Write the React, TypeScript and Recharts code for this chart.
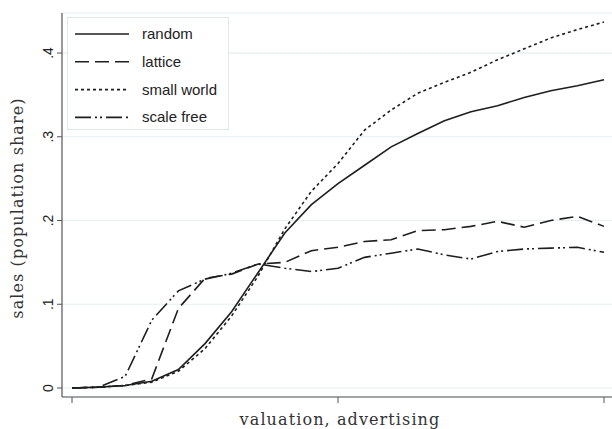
import { CartesianGrid, Label, Legend, Line, LineChart, XAxis, YAxis } from "recharts";

const steps = [0, 1, 2, 3, 4, 5, 6, 7, 8, 9, 10, 11, 12, 13, 14, 15, 16, 17, 18, 19, 20];

const random = [0, 0.001, 0.003, 0.008, 0.022, 0.053, 0.091, 0.138, 0.185, 0.219, 0.244, 0.266, 0.288, 0.304, 0.319, 0.330, 0.337, 0.347, 0.355, 0.361, 0.368];
const lattice = [0, 0.001, 0.003, 0.011, 0.095, 0.131, 0.136, 0.148, 0.150, 0.164, 0.168, 0.175, 0.177, 0.188, 0.189, 0.193, 0.199, 0.192, 0.200, 0.205, 0.193];
const smallWorld = [0, 0.001, 0.003, 0.007, 0.020, 0.047, 0.086, 0.134, 0.190, 0.235, 0.268, 0.308, 0.332, 0.352, 0.365, 0.377, 0.392, 0.405, 0.418, 0.428, 0.437];
const scaleFree = [0, 0.001, 0.014, 0.081, 0.116, 0.130, 0.137, 0.148, 0.143, 0.139, 0.143, 0.156, 0.161, 0.166, 0.159, 0.154, 0.163, 0.166, 0.167, 0.168, 0.162];

const yTicks = [0, 0.1, 0.2, 0.3, 0.4];
const xTicks = [0, 10, 20];

const data = steps.map((x, i) => ({
  x,
  random: random[i],
  lattice: lattice[i],
  smallWorld: smallWorld[i],
  scaleFree: scaleFree[i],
}));

const series = [
  { key: "random", name: "random", dash: undefined },
  { key: "lattice", name: "lattice", dash: "14 6" },
  { key: "smallWorld", name: "small world", dash: "3 3" },
  { key: "scaleFree", name: "scale free", dash: "16 4 2 3 2 4" },
];

const ink = "#1e1e1e";
const sans = "'Liberation Sans', Arial, sans-serif";
const serif = "'DejaVu Serif', serif";

function YTick(props: any) {
  const { y, payload } = props;
  const v = payload.value;
  const txt = v === 0 ? "0" : "." + Math.round(v * 10);
  return (
    <text x={53} y={y} transform={`rotate(-90 53 ${y})`} textAnchor="middle" fontSize={14} fontFamily={sans} fill="#222">
      {txt}
    </text>
  );
}

function LegendBox() {
  return (
    <div style={{ width: 160, height: 111, border: "1px solid #dde9ec", background: "#fff", boxSizing: "content-box" }}>
      <svg width={160} height={111}>
        {series.map((s, i) => {
          const cy = 16 + i * 27.8;
          return (
            <g key={s.key}>
              <line x1={7} x2={61} y1={cy} y2={cy} stroke={ink} strokeWidth={1.6} strokeDasharray={s.dash} />
              <text x={74} y={cy + 5} fontSize={15} fontFamily={sans} fill="#222">
                {s.name}
              </text>
            </g>
          );
        })}
      </svg>
    </div>
  );
}

export default function App() {
  return (
    <div style={{ position: "absolute", left: 0, top: 0, width: 612, height: 429, background: "#fff" }}>
      <LineChart width={612} height={429} data={data} margin={{ top: 13, right: 0, bottom: 0, left: 0 }}>
        <CartesianGrid horizontal vertical={false} stroke="#e4eff1" strokeWidth={1.2} />
        <XAxis
          dataKey="x"
          type="number"
          domain={[0, 20]}
          ticks={xTicks}
          padding={{ left: 10, right: 8 }}
          height={32}
          tickSize={6}
          tickFormatter={() => ""}
          axisLine={{ stroke: "#555", strokeWidth: 1.2 }}
          tickLine={{ stroke: "#555" }}
        >
          <Label
            content={() => (
              <text x={340} y={425} textAnchor="middle" fontSize={16} letterSpacing={1.1} fontFamily={serif} fill="#333">
                valuation, advertising
              </text>
            )}
          />
        </XAxis>
        <YAxis
          type="number"
          domain={[-0.01075, 0.4478]}
          allowDataOverflow
          ticks={yTicks}
          width={62}
          tickSize={5}
          tick={<YTick />}
          axisLine={{ stroke: "#555", strokeWidth: 1.2 }}
          tickLine={{ stroke: "#555" }}
        >
          <Label
            content={() => (
              <text x={23} y={208} transform="rotate(-90 23 208)" textAnchor="middle" fontSize={16} letterSpacing={1.1} fontFamily={serif} fill="#333">
                sales (population share)
              </text>
            )}
          />
        </YAxis>
        <Legend
          layout="vertical"
          align="center"
          verticalAlign="middle"
          content={() => <LegendBox />}
          wrapperStyle={{ position: "absolute", left: 67, top: 17, width: "auto" }}
        />
        {series.map((s) => (
          <Line
            key={s.key}
            type="linear"
            dataKey={s.key}
            name={s.name}
            stroke={ink}
            strokeWidth={1.6}
            strokeDasharray={s.dash}
            dot={false}
            isAnimationActive={false}
          />
        ))}
      </LineChart>
    </div>
  );
}
